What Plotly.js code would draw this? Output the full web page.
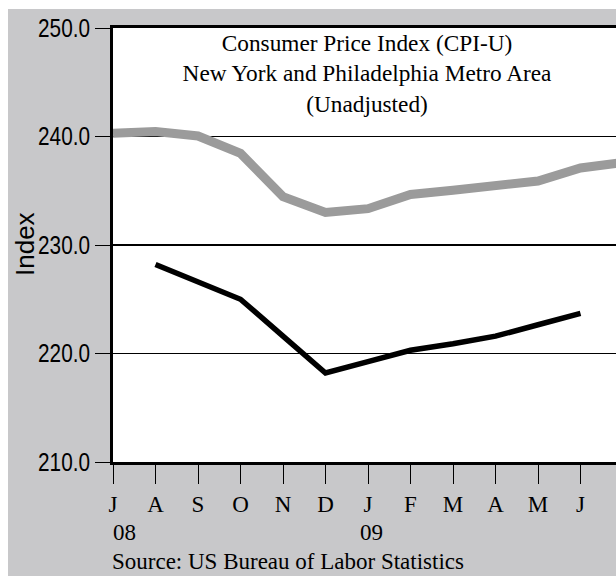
<!DOCTYPE html>
<html>
<head>
<meta charset="utf-8">
<script src="https://cdn.plot.ly/plotly-3.0.1.min.js"></script>
<style>
  html, body { margin: 0; padding: 0; background: #ffffff; overflow: hidden; }
  #chart { position: absolute; left: 8px; top: 9px; width: 680px; height: 567px; }
  #chart g.ytick { transform-box: fill-box; transform-origin: 100% 50%; transform: scaleX(0.83); }
</style>
</head>
<body>
<div id="chart"></div>
<script>
// Month positions (index along the x axis) and their labels
const monthIndex = [0, 1, 2, 3, 4, 5, 6, 7, 8, 9, 10, 11, 12];
const monthLabels = ['J', 'A', 'S', 'O', 'N', 'D', 'J', 'F', 'M', 'A', 'M', 'J', 'J'];
// Year labels placed under the January ticks
const yearPos = [0, 6];
const yearLabels = ['08', '09'];

// CPI-U series
const seriesGray = [240.3, 240.45, 240.05, 238.45, 234.45, 233.0, 233.35, 234.65, 235.05, 235.5, 235.9, 237.1, 237.6];
const seriesBlack = [null, 228.2, 226.6, 225.0, 221.6, 218.2, 219.25, 220.3, 220.9, 221.6, 222.65, 223.7, null];

const yTicks = [210, 220, 230, 240, 250];

const serif = 'Liberation Serif, Times New Roman, serif';
const sans = 'Liberation Sans, Arial, Helvetica, sans-serif';

const traces = [
  {
    x: monthIndex, y: seriesGray, type: 'scatter', mode: 'lines',
    line: { color: '#9b9b9b', width: 9 }, connectgaps: false, hoverinfo: 'skip'
  },
  {
    x: monthIndex, y: seriesBlack, type: 'scatter', mode: 'lines',
    line: { color: '#000000', width: 5.5 }, connectgaps: false, hoverinfo: 'skip'
  }
];

const annotations = yearLabels.map((t, i) => ({
  text: t, x: yearPos[i], xref: 'x', y: 0, yref: 'paper',
  xanchor: i === 0 ? 'left' : 'center', yanchor: 'top', yshift: -56, xshift: i === 0 ? -2 : 3,
  showarrow: false, font: { family: serif, size: 23, color: '#000' }
}));
annotations.push({
  text: 'Source: US Bureau of Labor Statistics', x: 0, xref: 'paper', y: 0, yref: 'paper',
  xanchor: 'left', yanchor: 'top', yshift: -85, xshift: -3, showarrow: false,
  font: { family: serif, size: 23, color: '#000' }
});
annotations.push({
  text: 'Index', x: 0, xref: 'paper', y: 0.5, yref: 'paper', textangle: -90,
  xanchor: 'center', yanchor: 'middle', xshift: -88, yshift: 1, showarrow: false,
  font: { family: sans, size: 26, color: '#000' }
});

const layout = {
  width: 680, height: 567,
  paper_bgcolor: '#c8c8ca', plot_bgcolor: '#ffffff',
  margin: { l: 105, r: 48, t: 19, b: 114, pad: 0 },
  showlegend: false,
  title: {
    text: 'Consumer Price Index (CPI-U)<br>New York and Philadelphia Metro Area<br>(Unadjusted)',
    font: { family: serif, size: 23.3, color: '#000' },
    xref: 'paper', x: 0.482, xanchor: 'center',
    yref: 'paper', y: 0.947, yanchor: 'top'
  },
  xaxis: {
    range: [0, 12.4], tickmode: 'array', tickvals: monthIndex, ticktext: monthLabels,
    showgrid: false, zeroline: false,
    showline: true, linecolor: '#000', linewidth: 3, mirror: true,
    ticks: 'outside', ticklen: 19, tickwidth: 1, tickcolor: '#000',
    ticklabelstandoff: 0,
    tickfont: { family: serif, size: 23, color: '#000' }
  },
  yaxis: {
    range: [210, 250], tickmode: 'array', tickvals: yTicks, tickformat: '.1f',
    showgrid: true, gridcolor: '#000', gridwidth: 1.3, zeroline: false,
    showline: true, linecolor: '#000', linewidth: 3, mirror: true,
    ticks: 'outside', ticklen: 15, tickwidth: 1, tickcolor: '#000',
    tickfont: { family: sans, size: 25, color: '#000' }
  },
  annotations: annotations
};

Plotly.newPlot('chart', traces, layout, { staticPlot: true, displayModeBar: false });
</script>
</body>
</html>
